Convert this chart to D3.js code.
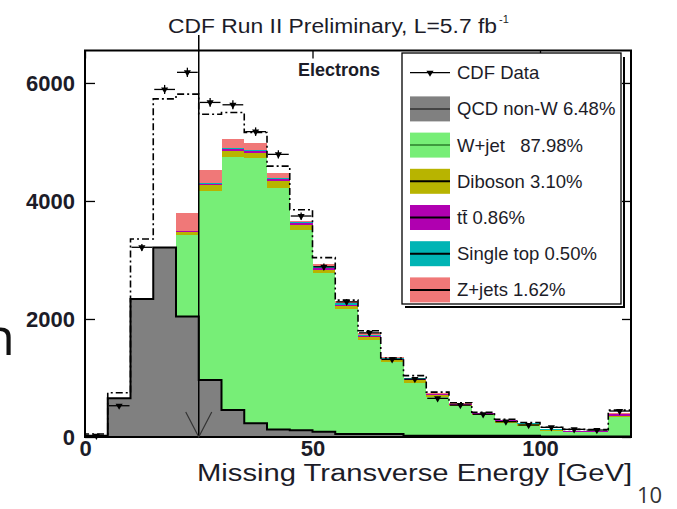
<!DOCTYPE html><html><head><meta charset="UTF-8"><script src="https://d3js.org/d3.v7.min.js"></script><style>
            body { margin: 0; background: #fff; }
            svg { display: block; font-family: 'Liberation Sans', Arial, sans-serif; }
            .axis text { font-size: 22px; font-weight: bold; fill: #1c1c28; }
            .axis line { stroke: #000; stroke-width: 1.3px; }
            .legend text { font-size: 18.5px; fill: #1c1c28; white-space: pre; }
        </style></head><body><div id="chart"></div><script>
            // 5 GeV bins of missing transverse energy
            const binStart = [0,5,10,15,20,25,30,35,40,45,50,55,60,65,70,75,80,85,90,95,100,105,110,115];
            const binWidth = 5;

            // stacked predictions (events per bin)
            const qcd     = [20,655,2340,3210,2040,966,458,235,125,115,90,52,52,52,22,22,22,22,22,22,8,8,8,8];
            const wjet    = [0,0,0,0,1385,3204,4292,4485,4090,3385,2685,2118,1598,1213,898,653,503,351,210,164,99,72,72,325];
            const diboson = [0,0,0,0,45,100,100,90,130,95,60,50,45,35,40,30,20,20,45,35,15,10,10,25];
            const ttbar   = [0,0,0,0,15,15,30,30,30,30,30,25,20,15,25,20,10,8,8,5,5,4,4,35];
            const stop    = [0,0,0,0,10,20,25,30,10,15,25,20,15,30,10,5,5,5,5,5,3,3,3,5];
            const zjets   = [0,0,0,0,300,220,140,110,85,25,35,45,40,10,10,10,10,5,5,5,3,3,3,10];

            // dash-dotted total and CDF data
            const total   = [50,750,3355,5730,5810,5470,5500,5160,4590,3850,3040,2320,1800,1340,1040,760,580,420,300,245,165,130,125,455];
            const cdfData = [20,530,3215,5890,6180,5670,5630,5175,4790,3745,2885,2290,1765,1315,980,655,540,385,260,203,164,130,118,440];

            const keys = ['qcd','wjet','diboson','ttbar','stop','zjets'];
            const colors = {qcd:'#808080', wjet:'#77ee77', diboson:'#b8b400', ttbar:'#b000b0', stop:'#00b4b4', zjets:'#f07878'};
            const legendLines = {qcd:'#444', wjet:'#3f9a3f', diboson:'#000', ttbar:'#000', stop:'#000', zjets:'#000'};
            const legendLabels = ['QCD non-W 6.48%','W+jet   87.98%','Diboson 3.10%','tt\u0304 0.86%','Single top 0.50%','Z+jets 1.62%'];
            const yMajor = [0,2000,4000,6000];
            const xMajor = [0,50,100];
            const cutValue = 25;

            const rows = binStart.map((b, i) => ({b, qcd: qcd[i], wjet: wjet[i], diboson: diboson[i],
                ttbar: ttbar[i], stop: stop[i], zjets: zjets[i]}));

            const svg = d3.select('#chart').append('svg')
                .attr('width', 677)
                .attr('height', 509);

            const x = d3.scaleLinear().domain([0, 120]).range([85, 631]);
            const y = d3.scaleLinear().domain([0, 6550]).range([437, 50.5]);

            // stacked histogram
            const series = d3.stack().keys(keys)(rows);
            svg.append('g').selectAll('g')
                .data(series)
                .enter().append('g')
                .attr('fill', d => colors[d.key])
                .selectAll('rect')
                .data(d => d.filter(p => p[1] > p[0]))
                .enter().append('rect')
                .attr('x', d => x(d.data.b))
                .attr('width', d => x(d.data.b + binWidth) - x(d.data.b))
                .attr('y', d => y(d[1]))
                .attr('height', d => y(d[0]) - y(d[1]))
                .attr('shape-rendering', 'crispEdges');

            function stepPts(vals) {
                const pts = [[x(0), y(0)]];
                vals.forEach((v, i) => {
                    pts.push([x(binStart[i]), y(v)]);
                    pts.push([x(binStart[i] + binWidth), y(v)]);
                });
                pts.push([x(120), y(0)]);
                return pts;
            }
            const line = d3.line();

            // QCD outline
            svg.append('path')
                .attr('d', line(stepPts(qcd)))
                .attr('fill', 'none')
                .attr('stroke', '#000')
                .attr('stroke-width', 2);

            // total prediction, dash-dot
            svg.append('path')
                .attr('d', line(stepPts(total)))
                .attr('fill', 'none')
                .attr('stroke', '#000')
                .attr('stroke-width', 1.6)
                .attr('stroke-dasharray', '7,3,2,3');

            // data points
            const pts = svg.append('g');
            cdfData.forEach((v, i) => {
                const cx = x(binStart[i] + binWidth / 2);
                const err = Math.sqrt(v);
                pts.append('line')
                    .attr('x1', x(binStart[i]) + 1).attr('x2', x(binStart[i] + binWidth) - 1)
                    .attr('y1', y(v)).attr('y2', y(v))
                    .attr('stroke', '#000').attr('stroke-width', 1.3);
                pts.append('line')
                    .attr('x1', cx).attr('x2', cx)
                    .attr('y1', y(v + err)).attr('y2', y(Math.max(0, v - err)))
                    .attr('stroke', '#000').attr('stroke-width', 1.3);
                pts.append('path')
                    .attr('d', d3.symbol(d3.symbolTriangle, 22)())
                    .attr('transform', `translate(${cx},${y(v)}) rotate(180)`)
                    .attr('fill', '#000');
            });

            // axes (ticks inward, ROOT style)
            const gl = svg.append('g').attr('class', 'axis').attr('transform', `translate(${x(0)},0)`);
            gl.call(d3.axisLeft(y).tickValues(d3.range(0, 6501, 500)).tickSize(-5).tickFormat(''));
            gl.call(d3.axisLeft(y).tickValues(yMajor).tickSize(-10).tickPadding(10).tickFormat(d3.format('d')));
            const gr = svg.append('g').attr('class', 'axis').attr('transform', `translate(${x(120)},0)`);
            gr.call(d3.axisRight(y).tickValues(d3.range(0, 6501, 500)).tickSize(-5).tickFormat(''));
            gr.call(d3.axisRight(y).tickValues(yMajor).tickSize(-9).tickFormat(''));
            const gt = svg.append('g').attr('class', 'axis').attr('transform', `translate(0,${y(6550)})`);
            gt.call(d3.axisTop(x).tickValues(d3.range(0, 121, 10)).tickSize(-4).tickFormat(''));
            gt.call(d3.axisTop(x).tickValues(xMajor).tickSize(-8).tickFormat(''));
            const gb = svg.append('g').attr('class', 'axis').attr('transform', `translate(0,${y(0)})`);
            gb.call(d3.axisBottom(x).tickValues(xMajor).tickSize(0).tickPadding(3).tickFormat(d3.format('d')));
            svg.selectAll('.axis .domain').remove();

            // frame
            svg.append('rect')
                .attr('x', x(0)).attr('y', y(6550))
                .attr('width', x(120) - x(0)).attr('height', y(0) - y(6550))
                .attr('fill', 'none').attr('stroke', '#000').attr('stroke-width', 2);

            // cut arrow at 25 GeV
            const cx = x(cutValue);
            svg.append('line')
                .attr('x1', cx).attr('x2', cx).attr('y1', 35).attr('y2', y(0))
                .attr('stroke', '#000').attr('stroke-width', 1.5);
            svg.append('path')
                .attr('d', `M${cx - 13},${y(0) - 25}L${cx},${y(0)}L${cx + 13},${y(0) - 25}`)
                .attr('fill', 'none').attr('stroke', '#333').attr('stroke-width', 1.2);

            // legend
            const lg = svg.append('g').attr('class', 'legend');
            lg.append('path')
                .attr('d', 'M405,307H624V57')
                .attr('fill', 'none').attr('stroke', '#000').attr('stroke-width', 2);
            lg.append('rect')
                .attr('x', 402).attr('y', 53).attr('width', 219).attr('height', 251)
                .attr('fill', '#fff').attr('stroke', '#000').attr('stroke-width', 1.3);
            const rowY = i => 72.7 + i * 36.2;
            lg.append('line').attr('x1', 410).attr('x2', 450).attr('y1', rowY(0)).attr('y2', rowY(0))
                .attr('stroke', '#000').attr('stroke-width', 1.3);
            lg.append('path')
                .attr('d', d3.symbol(d3.symbolTriangle, 22)())
                .attr('transform', `translate(430,${rowY(0)}) rotate(180)`);
            lg.append('text').attr('x', 457).attr('y', rowY(0) + 6.5).text('CDF Data');
            keys.forEach((k, i) => {
                const cy = rowY(i + 1);
                lg.append('rect').attr('x', 410).attr('y', cy - 12.5).attr('width', 40).attr('height', 25)
                    .attr('fill', colors[k]);
                lg.append('line').attr('x1', 410).attr('x2', 450).attr('y1', cy).attr('y2', cy)
                    .attr('stroke', legendLines[k]).attr('stroke-width', 2);
                lg.append('text').attr('x', 457).attr('y', cy + 6.5).text(legendLabels[i]);
            });

            // texts
            svg.append('text')
                .attr('x', 298).attr('y', 76)
                .attr('font-size', 18).attr('font-weight', 'bold').attr('fill', '#1c1c28')
                .text('Electrons');
            svg.append('text')
                .attr('x', 168).attr('y', 33)
                .attr('font-size', 19.5).attr('fill', '#1c1c28')
                .attr('textLength', 329).attr('lengthAdjust', 'spacingAndGlyphs')
                .text('CDF Run II Preliminary, L=5.7 fb');
            svg.append('text')
                .attr('x', 499).attr('y', 23)
                .attr('font-size', 11).attr('fill', '#1c1c28')
                .text('-1');
            svg.append('text')
                .attr('x', 197).attr('y', 481)
                .attr('font-size', 23).attr('fill', '#1c1c28')
                .attr('textLength', 435).attr('lengthAdjust', 'spacingAndGlyphs')
                .text('Missing Transverse Energy [GeV]');
            svg.append('text')
                .attr('x', 637).attr('y', 503)
                .attr('font-size', 22).attr('fill', '#333')
                .style('font-family', "'Open Sans', sans-serif")
                .text('10');
            svg.append('text')
                .attr('x', 15).attr('y', 355)
                .attr('text-anchor', 'end')
                .attr('font-size', 52).attr('fill', '#111')
                .style('font-family', "'Open Sans', sans-serif")
                .text('n');
        </script></body></html>
